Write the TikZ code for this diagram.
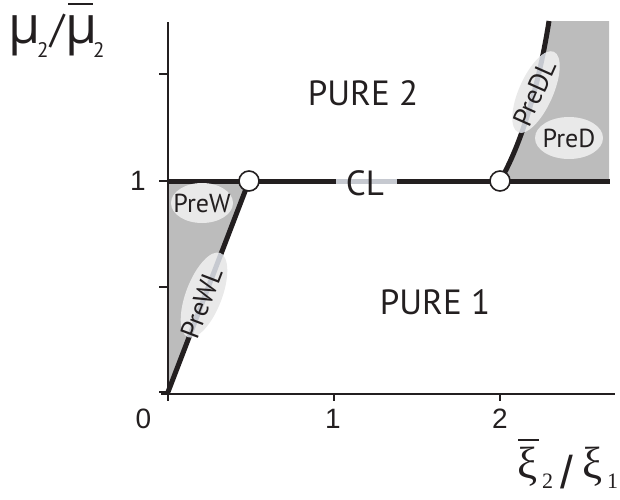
\documentclass[tikz,border=0pt]{standalone}
\usepackage{fontspec}
\setmainfont{PT Sans}
\newfontfamily\labfont{PT Sans}
\newfontfamily\tickfont{Liberation Sans}
\newfontfamily\grkfont{Open Sans}
\newfontfamily\serfont{Liberation Serif}
\usetikzlibrary{shapes.geometric}
\definecolor{txt}{RGB}{35,31,32}
\definecolor{regiongray}{RGB}{188,188,188}
\definecolor{ellc}{RGB}{233,233,233}
\definecolor{lineln}{RGB}{198,201,208}
\tikzset{
  axisline/.style={line width=2.6pt, txt},
  thickln/.style={line width=5pt, txt},
  lightln/.style={line width=5pt, lineln},
  ticksty/.style={line width=2.2pt, txt},
  regionlab/.style={font=\labfont\fontsize{35}{35}\selectfont, text=txt, inner sep=0pt},
  smalllab/.style={font=\labfont\fontsize{26}{26}\selectfont, text=txt, inner sep=0pt},
  rotlab/.style={font=\labfont\fontsize{27}{27}\selectfont, text=txt, inner sep=0pt},
  ticklab/.style={font=\tickfont\fontsize{28}{28}\selectfont, text=txt, inner sep=0pt},
  endpt/.style={circle, draw=txt, line width=1.6pt, fill=white, minimum size=20pt, inner sep=0pt},
  ellnode/.style={ellipse, fill=ellc, inner sep=0pt},
}
\begin{document}
\begin{tikzpicture}[x=1pt,y=-1pt]
\useasboundingbox (0,0) rectangle (620,499);
% coordinates
\coordinate (O) at (168,392);
\coordinate (Ltop) at (168,181);
\coordinate (Rend) at (610,181);
\coordinate (Dtop) at (549,21);
% shaded regions
\fill[regiongray] (Ltop) -- (249,181) -- (O) -- cycle;
\fill[regiongray] (500,181) .. controls (525,138) and (541,72) .. (Dtop) -- (609,21) -- (609,181) -- cycle;
% axes
\draw[axisline] (168,22) -- (168,395);
\draw[axisline] (161,394) -- (615,394);
\foreach \yy in {74,181,287,392} \draw[ticksty] (159,\yy) -- (168,\yy);
\foreach \xx in {168,334,500} \draw[ticksty] (\xx,394) -- (\xx,401);
% boundaries
\node[endpt, draw=none, fill=none] (A) at (249,181) {};
\node[endpt, draw=none, fill=none] (B) at (500,181) {};
\draw[thickln] (Ltop) -- (Rend);
\draw[lightln] (336,181) -- (397,181);
\draw[thickln, line cap=round] (O) -- (A.center);
\draw[thickln] (B.center) .. controls (525,138) and (541,72) .. (Dtop);
% PreWL ellipse
\fill[ellc, rotate around={69:(204,295)}] (204,295) ellipse [x radius=45pt, y radius=18pt];
\begin{scope}
\clip[rotate around={69:(204,295)}] (204,295) ellipse [x radius=45pt, y radius=18pt];
\draw[lightln] (O) -- (A.center);
\end{scope}
\node[rotlab, rotate=69] (wl) at (201.5,303) {PreWL};
% PreDL ellipse
\fill[ellc, rotate around={66:(536,92)}] (536,92) ellipse [x radius=44pt, y radius=17pt];
\begin{scope}
\clip[rotate around={66:(536,92)}] (536,92) ellipse [x radius=44pt, y radius=17pt];
\draw[lightln] (B.center) .. controls (525,138) and (541,72) .. (Dtop);
\end{scope}
\node[rotlab, rotate=66] (dl) at (534.5,93) {PreDL};
% PreW, PreD
\node[ellnode, minimum width=62pt, minimum height=40pt] (ew) at (202,203) {};
\node[smalllab] (w) at (202,203) {PreW};
\node[ellnode, minimum width=68pt, minimum height=42pt] (ed) at (569,138) {};
\node[smalllab] (d) at (569,138) {PreD};
% circles
\node[endpt] (A2) at (249,181) {};
\node[endpt] (B2) at (500,181) {};
% region labels
\node[regionlab] (p2) at (363,93) {PURE 2};
\node[regionlab] (p1) at (435,302) {PURE 1};
\node[regionlab] (cl) at (365,183) {CL};
% tick labels
\node[ticklab] (t0) at (143.5,419) {0};
\node[ticklab] (t1) at (333,419) {1};
\node[ticklab] (t2) at (500,419) {2};
\node[ticklab] (ty1) at (138,181) {1};
% y label
\node[anchor=base west, inner sep=0pt, text=txt, font=\grkfont\fontsize{52}{52}\selectfont] (mu1) at (8,43) {μ};
\node[anchor=base west, inner sep=0pt, text=txt, font=\labfont\fontsize{21}{21}\selectfont] (s1) at (37,57) {2};
\node[anchor=base west, inner sep=0pt, text=txt, font=\labfont\fontsize{40}{40}\selectfont] (sl1) at (50,42) {/};
\node[anchor=base west, inner sep=0pt, text=txt, font=\grkfont\fontsize{52}{52}\selectfont] (mu2) at (65,43) {μ};
\draw[txt, line width=1.8pt] (68,4) -- (93,4);
\node[anchor=base west, inner sep=0pt, text=txt, font=\labfont\fontsize{21}{21}\selectfont] (s2) at (93,57) {2};
% x label
\node[anchor=base west, inner sep=0pt, text=txt, font=\serfont\fontsize{45}{45}\selectfont] (xi1) at (517,478) {ξ};
\draw[txt, line width=1.5pt] (518,440) -- (539,440);
\node[anchor=base west, inner sep=0pt, text=txt, font=\serfont\fontsize{22}{22}\selectfont] (xs2) at (542,488) {2};
\node[anchor=base west, inner sep=0pt, text=txt, font=\tickfont\fontsize{46}{46}\selectfont] (xsl) at (560,488) {/};
\node[anchor=base west, inner sep=0pt, text=txt, font=\serfont\fontsize{45}{45}\selectfont] (xi2) at (582,478) {ξ};
\node[anchor=base west, inner sep=0pt, text=txt, font=\serfont\fontsize{22}{22}\selectfont] (xs1) at (607,488) {1};
\end{tikzpicture}
\end{document}
